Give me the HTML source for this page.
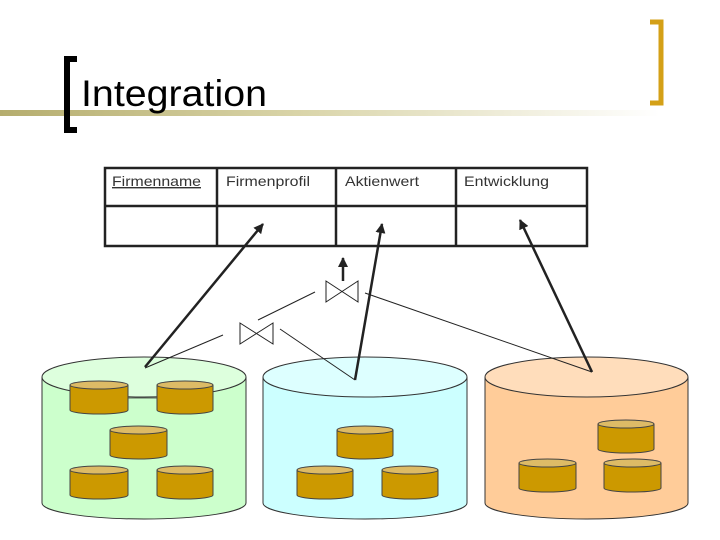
<!DOCTYPE html>
<html><head><meta charset="utf-8"><style>
body{margin:0;background:#fff;}
svg{display:block;}
text{font-family:"Liberation Sans",Arial,sans-serif;}
</style></head><body>
<svg width="720" height="540" viewBox="0 0 720 540" xmlns="http://www.w3.org/2000/svg">
<defs>
<linearGradient id="g" x1="0" x2="1" y1="0" y2="0">
<stop offset="0" stop-color="#b5ad6e"/><stop offset="0.45" stop-color="#d9d4a8"/><stop offset="1" stop-color="#fff"/>
</linearGradient>
<marker id="ah" viewBox="0 0 10 10" refX="9" refY="5" markerWidth="4" markerHeight="4" orient="auto">
<path d="M0,0 L10,5 L0,10 z" fill="#222"/></marker>
</defs>
<rect x="0" y="110" width="660" height="6" fill="url(#g)"/>
<path d="M77,59 H67 V130 H77" fill="none" stroke="#000" stroke-width="6"/>
<path d="M650,22 H661 V103 H650" fill="none" stroke="#d4a017" stroke-width="5"/>
<text x="81" y="106" font-size="37" fill="#000" textLength="186" lengthAdjust="spacingAndGlyphs">Integration</text>

<g stroke="#222" stroke-width="2.5" fill="#fff">
<rect x="105" y="168" width="482" height="78"/>
<line x1="105" y1="206" x2="587" y2="206"/>
<line x1="217" y1="168" x2="217" y2="246"/>
<line x1="336" y1="168" x2="336" y2="246"/>
<line x1="456" y1="168" x2="456" y2="246"/>
</g>
<g font-size="14" fill="#333">
<text x="112" y="186" text-decoration="underline" textLength="89" lengthAdjust="spacingAndGlyphs">Firmenname</text>
<text x="226" y="186" textLength="84" lengthAdjust="spacingAndGlyphs">Firmenprofil</text>
<text x="345" y="186" textLength="74" lengthAdjust="spacingAndGlyphs">Aktienwert</text>
<text x="464" y="186" textLength="85" lengthAdjust="spacingAndGlyphs">Entwicklung</text>
</g>

<g stroke="#333" stroke-width="1">
<path d="M42,377 V503 A102,16 0 0 0 246,503 V377" fill="#ccffcc"/>
<ellipse cx="144" cy="377" rx="102" ry="20" fill="#ddffdd"/>
<path d="M263,377 V503 A102,16 0 0 0 467,503 V377" fill="#ccffff"/>
<ellipse cx="365" cy="377" rx="102" ry="20" fill="#ddffff"/>
<path d="M485,377 V503 A101.5,16 0 0 0 688,503 V377" fill="#ffcc99"/>
<ellipse cx="586.5" cy="377" rx="101.5" ry="20" fill="#ffddbb"/>
<line x1="128" y1="398" x2="157" y2="398" stroke-width="0.8"/>
</g>

<g stroke="#444" stroke-width="1">
<path d="M70,385 V410 A29,4 0 0 0 128,410 V385" fill="#cc9900"/><ellipse cx="99" cy="385" rx="29" ry="4" fill="#ddbb66"/>
<path d="M157,385 V410 A28,4 0 0 0 213,410 V385" fill="#cc9900"/><ellipse cx="185" cy="385" rx="28" ry="4" fill="#ddbb66"/>
<path d="M110,430 V455 A28.5,4 0 0 0 167,455 V430" fill="#cc9900"/><ellipse cx="138.5" cy="430" rx="28.5" ry="4" fill="#ddbb66"/>
<path d="M70,470 V495 A29,4 0 0 0 128,495 V470" fill="#cc9900"/><ellipse cx="99" cy="470" rx="29" ry="4" fill="#ddbb66"/>
<path d="M157,470 V495 A28,4 0 0 0 213,495 V470" fill="#cc9900"/><ellipse cx="185" cy="470" rx="28" ry="4" fill="#ddbb66"/>

<path d="M337,430 V455 A28,4 0 0 0 393,455 V430" fill="#cc9900"/><ellipse cx="365" cy="430" rx="28" ry="4" fill="#ddbb66"/>
<path d="M297,470 V495 A28,4 0 0 0 353,495 V470" fill="#cc9900"/><ellipse cx="325" cy="470" rx="28" ry="4" fill="#ddbb66"/>
<path d="M382,470 V495 A28,4 0 0 0 438,495 V470" fill="#cc9900"/><ellipse cx="410" cy="470" rx="28" ry="4" fill="#ddbb66"/>

<path d="M598,424 V449 A28,4 0 0 0 654,449 V424" fill="#cc9900"/><ellipse cx="626" cy="424" rx="28" ry="4" fill="#ddbb66"/>
<path d="M519,463 V488 A28.5,4 0 0 0 576,488 V463" fill="#cc9900"/><ellipse cx="547.5" cy="463" rx="28.5" ry="4" fill="#ddbb66"/>
<path d="M604,463 V488 A28.5,4 0 0 0 661,488 V463" fill="#cc9900"/><ellipse cx="632.5" cy="463" rx="28.5" ry="4" fill="#ddbb66"/>
</g>

<g stroke="#222" stroke-width="1" fill="none">
<line x1="258" y1="320" x2="315" y2="292"/>
<line x1="365" y1="293" x2="592" y2="372"/>
<line x1="223" y1="335" x2="145" y2="368"/>
<line x1="280" y1="329" x2="355" y2="380"/>
<path d="M326,281 L358,302 L358,281 L326,302 Z"/>
<path d="M240,323 L273,344 L273,323 L240,344 Z"/>
</g>
<g stroke="#222" stroke-width="2.5" fill="none" marker-end="url(#ah)">
<line x1="145" y1="367" x2="263" y2="224"/>
<line x1="355" y1="380" x2="382" y2="224"/>
<line x1="592" y1="372" x2="520" y2="220"/>
<line x1="343" y1="281" x2="343" y2="258"/>
</g>
</svg>
</body></html>
